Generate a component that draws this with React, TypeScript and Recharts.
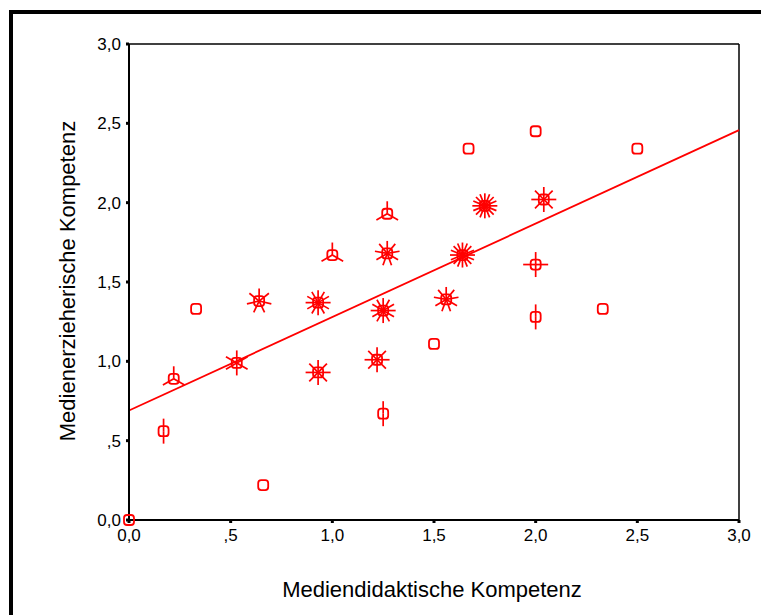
import React from "react";
import { ScatterChart, Scatter, XAxis, YAxis, ReferenceLine } from "recharts";

// Mediendidaktische (x) vs. Medienerzieherische (y) Kompetenz, sunflower counts
const X_VALUES = [0.0, 0.17, 0.22, 0.33, 0.53, 0.64, 0.66, 0.93, 0.93, 1.0, 1.22, 1.25, 1.27, 1.25, 1.27, 1.5, 1.56, 1.64, 1.67, 1.75, 2.0, 2.0, 2.0, 2.04, 2.33, 2.5];
const Y_VALUES = [0.0, 0.56, 0.89, 1.33, 0.99, 1.38, 0.22, 1.37, 0.93, 1.67, 1.01, 1.32, 1.68, 0.67, 1.93, 1.11, 1.39, 1.67, 2.34, 1.98, 2.45, 1.61, 1.28, 2.02, 1.33, 2.34];
const COUNTS = [1, 2, 3, 1, 6, 7, 1, 12, 8, 3, 8, 12, 9, 2, 3, 1, 9, 16, 1, 16, 1, 4, 2, 8, 1, 1];

const TICKS = [0, 0.5, 1, 1.5, 2, 2.5, 3];
const TICK_LABELS = ["0,0", ",5", "1,0", "1,5", "2,0", "2,5", "3,0"];

const INTERCEPT = 0.69;
const SLOPE = 0.589;

const RED = "#ff0000";
const FONT = "'Liberation Sans', Arial, sans-serif";

const points = X_VALUES.map((x, i) => ({ x, y: Y_VALUES[i], count: COUNTS[i] }));

const fmt = (v: number) => TICK_LABELS[TICKS.indexOf(v)] ?? String(v);

function Sunflower(props: any) {
  const { cx, cy, payload } = props;
  const n = payload.count;
  const petals = [];
  if (n > 1) {
    for (let i = 0; i < n; i++) {
      const a = (-90 + (360 / n) * i) * (Math.PI / 180);
      petals.push(
        <line
          key={i}
          x1={cx}
          y1={cy}
          x2={cx + 12.5 * Math.cos(a)}
          y2={cy + 12.5 * Math.sin(a)}
          stroke={RED}
          strokeWidth={1.7}
        />
      );
    }
  }
  return (
    <g>
      <rect x={cx - 5} y={cy - 5} width={10} height={10} rx={3} fill="none" stroke={RED} strokeWidth={1.8} />
      {petals}
    </g>
  );
}

export default function App() {
  const tick = { fill: "#000", fontSize: 17, fontFamily: FONT };
  return (
    <div style={{ position: "fixed", left: 0, top: 0, width: 761, height: 615, overflow: "hidden", background: "#fff" }}>
      <div
        style={{
          position: "absolute",
          left: 9,
          top: 10,
          width: 800,
          height: 700,
          border: "4px solid #000",
        }}
      />
      <div style={{ position: "absolute", left: 0, top: 0 }}>
        <ScatterChart width={761} height={615} margin={{ top: 44, right: 22, bottom: 0, left: 0 }}>
          <XAxis
            type="number"
            dataKey="x"
            domain={[0, 3]}
            ticks={TICKS}
            tickFormatter={fmt}
            height={95}
            axisLine={{ stroke: "#000", strokeWidth: 2 }}
            tickLine={{ stroke: "#000", strokeWidth: 3 }}
            tickSize={3}
            tickMargin={6}
            tick={tick}
            label={{
              content: ({ viewBox }: any) => (
                <text
                  x={viewBox.x + viewBox.width / 2 - 2}
                  y={viewBox.y + 69}
                  textAnchor="middle"
                  dominantBaseline="central"
                  fontSize={22}
                  fontFamily={FONT}
                  fill="#000"
                >
                  Mediendidaktische Kompetenz
                </text>
              ),
            }}
          />
          <YAxis
            type="number"
            dataKey="y"
            domain={[0, 3]}
            ticks={TICKS}
            tickFormatter={fmt}
            width={129}
            axisLine={{ stroke: "#000", strokeWidth: 2 }}
            tickLine={{ stroke: "#000", strokeWidth: 3 }}
            tickSize={3}
            tickMargin={5}
            tick={tick}
            label={{
              content: ({ viewBox }: any) => {
                const x = viewBox.x + 67;
                const y = viewBox.y + viewBox.height / 2 - 1;
                return (
                  <text
                    x={x}
                    y={y}
                    transform={`rotate(-90 ${x} ${y})`}
                    textAnchor="middle"
                    dominantBaseline="central"
                    fontSize={22}
                    fontFamily={FONT}
                    fill="#000"
                  >
                    Medienerzieherische Kompetenz
                  </text>
                );
              },
            }}
          />
          <ReferenceLine y={3} stroke="#000" strokeWidth={1.5} />
          <ReferenceLine x={3} stroke="#000" strokeWidth={1.5} />
          <ReferenceLine
            segment={[
              { x: 0, y: INTERCEPT },
              { x: 3, y: INTERCEPT + SLOPE * 3 },
            ]}
            stroke={RED}
            strokeWidth={1.8}
          />
          <Scatter data={points} shape={Sunflower} isAnimationActive={false} />
        </ScatterChart>
      </div>
    </div>
  );
}
